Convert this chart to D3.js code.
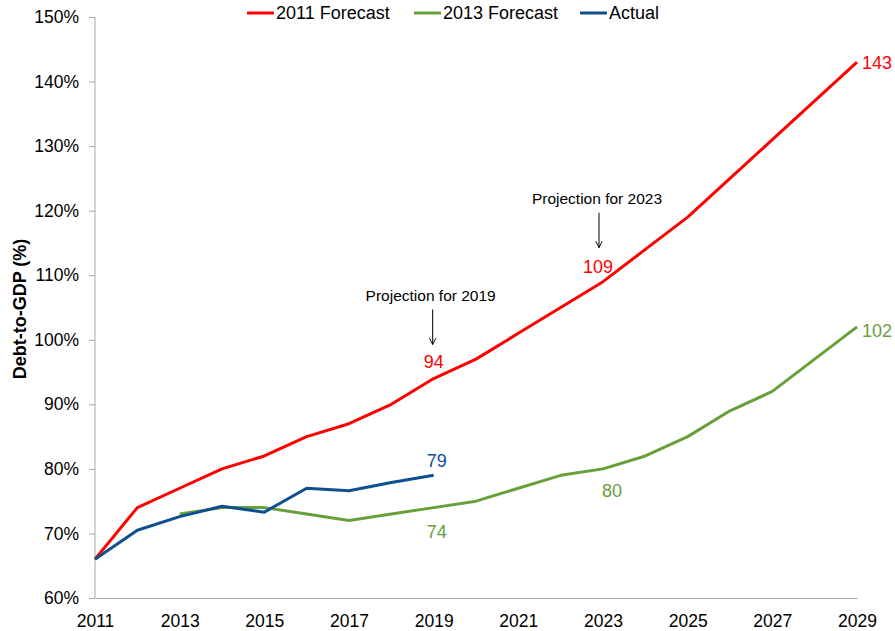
<!DOCTYPE html>
<html>
<head>
<meta charset="utf-8">
<script src="https://cdn.jsdelivr.net/npm/d3@7"></script>
<style>
  body { margin: 0; background: #fff; }
  svg { display: block; font-family: "Liberation Sans", Arial, sans-serif; }
</style>
</head>
<body>
<div id="chart"></div>
<script>
// --------------------------------------
//  Data
// --------------------------------------

const years = d3.range(2011, 2030);
const forecast2011 = [66, 74, 77, 80, 82, 85, 87, 90, 94, 97, 101, 105, 109, 114, 119, 125, 131, 137, 143];
const years2013 = d3.range(2013, 2030);
const forecast2013 = [73, 74, 74, 73, 72, 73, 74, 75, 77, 79, 80, 82, 85, 89, 92, 97, 102];
const yearsActual = d3.range(2011, 2020);
const actual = [66, 70.5, 72.6, 74.2, 73.3, 77, 76.6, 77.9, 79];

const xTicks = d3.range(2011, 2030, 2);
const yTicks = d3.range(60, 151, 10);

const seriesNames = ["2011 Forecast", "2013 Forecast", "Actual"];
const seriesColors = ["#ff0000", "#67a03a", "#0e4f8f"];

// --------------------------------------
//  Canvas
// --------------------------------------

const width = 895;
const height = 631;
const margin = {top: 17, right: 38, bottom: 33, left: 95};

const svg = d3.select("#chart")
  .append("svg")
    .attr("width", width)
    .attr("height", height);

const x = d3.scaleLinear()
  .domain([2011, 2029])
  .range([margin.left, width - margin.right]);

const y = d3.scaleLinear()
  .domain([60, 150])
  .range([height - margin.bottom, margin.top]);

// --------------------------------------
//  Axes
// --------------------------------------

const yAxis = svg.append("g")
  .attr("transform", `translate(${margin.left},0)`)
  .call(d3.axisLeft(y).tickValues(yTicks).tickSize(6).tickPadding(10).tickFormat(d => d + "%"));
yAxis.select(".domain").attr("stroke", "#a6a6a6").attr("d", `M0,${y(60)}V${y(150)}`);
yAxis.selectAll(".tick line").attr("stroke", "#a6a6a6");
yAxis.selectAll(".tick text")
  .attr("font-size", 17.5)
  .attr("fill", "#000")
  .attr("font-family", "Liberation Sans, Arial, sans-serif");

const xAxis = svg.append("g")
  .attr("transform", `translate(0,${y(60)})`)
  .call(d3.axisBottom(x).tickValues(xTicks).tickSize(0).tickPadding(17).tickFormat(d3.format("d")));
xAxis.select(".domain").attr("stroke", "#a6a6a6");
xAxis.selectAll(".tick text")
  .attr("font-size", 17.5)
  .attr("fill", "#000")
  .attr("font-family", "Liberation Sans, Arial, sans-serif");

// y axis title
svg.append("text")
  .attr("transform", `translate(26,309) rotate(-90)`)
  .attr("text-anchor", "middle")
  .attr("font-weight", "bold")
  .attr("font-size", 18)
  .text("Debt-to-GDP (%)");

// --------------------------------------
//  Lines
// --------------------------------------

const line = d3.line()
  .x(d => x(d[0]))
  .y(d => y(d[1]));

const series = [
  d3.zip(years, forecast2011),
  d3.zip(years2013, forecast2013),
  d3.zip(yearsActual, actual)
];

svg.selectAll("path.series")
  .data(series)
  .join("path")
    .attr("class", "series")
    .attr("d", line)
    .attr("fill", "none")
    .attr("stroke", (d, i) => seriesColors[i])
    .attr("stroke-width", 3)
    .attr("stroke-linejoin", "round");

// --------------------------------------
//  Value labels
// --------------------------------------

const labels = [
  {s: 0, year: 2029, anchor: "start", dx: 5, dy: 7},
  {s: 0, year: 2019, anchor: "middle", dx: 0, dy: -11},
  {s: 0, year: 2023, anchor: "middle", dx: -5, dy: -9},
  {s: 1, year: 2029, anchor: "start", dx: 5, dy: 10},
  {s: 1, year: 2019, anchor: "middle", dx: 3, dy: 30},
  {s: 1, year: 2023, anchor: "middle", dx: 9, dy: 28},
  {s: 2, year: 2019, anchor: "middle", dx: 3, dy: -8}
];

svg.selectAll("text.value")
  .data(labels)
  .join("text")
    .attr("class", "value")
    .attr("x", d => x(d.year) + d.dx)
    .attr("y", d => y(series[d.s].find(p => p[0] === d.year)[1]) + d.dy)
    .attr("text-anchor", d => d.anchor)
    .attr("font-size", 18)
    .attr("fill", d => seriesColors[d.s])
    .text(d => Math.round(series[d.s].find(p => p[0] === d.year)[1]));

// --------------------------------------
//  Annotations
// --------------------------------------

svg.append("defs").append("marker")
  .attr("id", "arrow")
  .attr("viewBox", "0 0 10 10")
  .attr("refX", 9).attr("refY", 5)
  .attr("markerWidth", 8).attr("markerHeight", 8)
  .attr("markerUnits", "userSpaceOnUse")
  .attr("orient", "auto")
  .append("path")
    .attr("d", "M1,1L9,5L1,9")
    .attr("fill", "none")
    .attr("stroke", "#000")
    .attr("stroke-width", 1.2);

const notes = [
  {year: 2019, value: 94, text: "Projection for 2019", dx: -2},
  {year: 2023, value: 109, text: "Projection for 2023", dx: -5}
];

notes.forEach(n => {
  const cx = x(n.year) + n.dx;
  const py = y(n.value);
  svg.append("text")
    .attr("x", cx - 1)
    .attr("y", py - 78)
    .attr("text-anchor", "middle")
    .attr("font-size", 15.5)
    .attr("fill", "#000")
    .text(n.text);
  svg.append("line")
    .attr("x1", cx + 1).attr("x2", cx + 1)
    .attr("y1", py - 69).attr("y2", py - 34)
    .attr("stroke", "#000")
    .attr("stroke-width", 1)
    .attr("marker-end", "url(#arrow)");
});

// --------------------------------------
//  Legend
// --------------------------------------

const legendX = [247, 414, 580];
const legend = svg.selectAll("g.legend")
  .data(seriesNames)
  .join("g")
    .attr("class", "legend")
    .attr("transform", (d, i) => `translate(${legendX[i]},13)`);

legend.append("line")
  .attr("x1", 0).attr("x2", 27)
  .attr("stroke", (d, i) => seriesColors[i])
  .attr("stroke-width", 3);

legend.append("text")
  .attr("x", 29)
  .attr("dy", "0.36em")
  .attr("font-size", 18)
  .attr("fill", "#000")
  .text(d => d);
</script>
</body>
</html>
